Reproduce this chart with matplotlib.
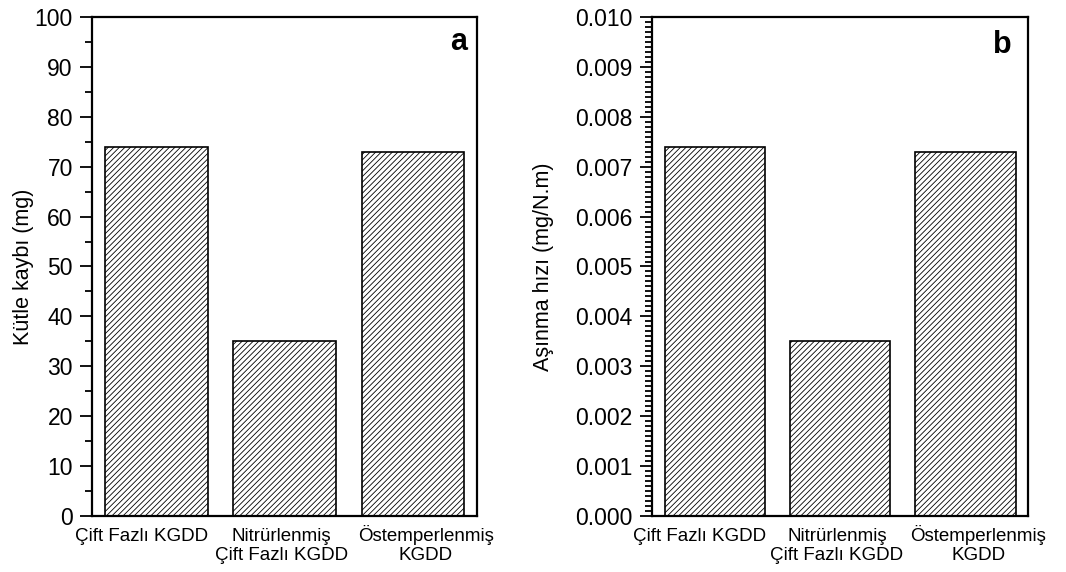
import matplotlib
matplotlib.use("Agg")
import matplotlib.pyplot as plt
import matplotlib.transforms as mtransforms
from matplotlib.ticker import MultipleLocator, FormatStrFormatter

plt.rcParams['font.family'] = ['Liberation Sans', 'DejaVu Sans']
plt.rcParams['hatch.linewidth'] = 0.6
plt.rcParams['hatch.color'] = '#333333'

categories = ["Çift Fazlı KGDD", "Nitrürlenmiş\nÇift Fazlı KGDD", "Östemperlenmiş\nKGDD"]
mass_loss = [74, 35, 73]
wear_rate = [0.0074, 0.0035, 0.0073]

fig = plt.figure(figsize=(10.66, 5.72), dpi=100)
ax1 = fig.add_axes([0.0863, 0.0979, 0.3612, 0.8724])
ax2 = fig.add_axes([0.6116, 0.0979, 0.3528, 0.8724])

label_shift_px = [(-15, 0), (-3, 0), (13, 3)]

def style(ax, values, ymax, major, minor, fmt, ylabel, letter, lx, ly):
    x = list(range(len(categories)))
    ax.bar(x, values, width=0.8, facecolor='white', edgecolor='black',
           linewidth=1.2, hatch='//////')
    ax.set_xlim(-0.5, 2.5)
    ax.set_ylim(0, ymax)
    ax.set_xticks(x)
    ax.set_xticklabels(categories, fontsize=13.5, linespacing=1.2)
    ax.tick_params(axis='x', length=0, pad=8.5)
    for lab, (dx, dy) in zip(ax.get_xticklabels(), label_shift_px):
        lab.set_transform(lab.get_transform() +
                          mtransforms.ScaledTranslation(dx / 100, dy / 100, fig.dpi_scale_trans))
    ax.yaxis.set_major_locator(MultipleLocator(major))
    ax.yaxis.set_minor_locator(MultipleLocator(minor))
    ax.yaxis.set_major_formatter(FormatStrFormatter(fmt))
    ax.tick_params(axis='y', which='major', direction='out', length=8.8,
                   width=1.3, labelsize=16.5, pad=5)
    ax.tick_params(axis='y', which='minor', direction='out', length=5,
                   width=1.3)
    for s in ax.spines.values():
        s.set_linewidth(1.6)
    ax.set_ylabel(ylabel, fontsize=15.5)
    ax.text(lx, ly, letter, transform=ax.transAxes, ha='right', va='baseline',
            fontsize=22, fontweight='bold')

style(ax1, mass_loss, 100, 10, 5, '%d', 'Kütle kaybı (mg)', 'a', 0.974, 0.934)
style(ax2, wear_rate, 0.010, 0.001, 0.0001, '%.3f', 'Aşınma hızı (mg/N.m)', 'b', 0.957, 0.928)
ax1.yaxis.set_label_coords(-0.151, 0.5)
ax2.yaxis.set_label_coords(-0.261, 0.5)

fig.savefig('out.png', dpi=100)
